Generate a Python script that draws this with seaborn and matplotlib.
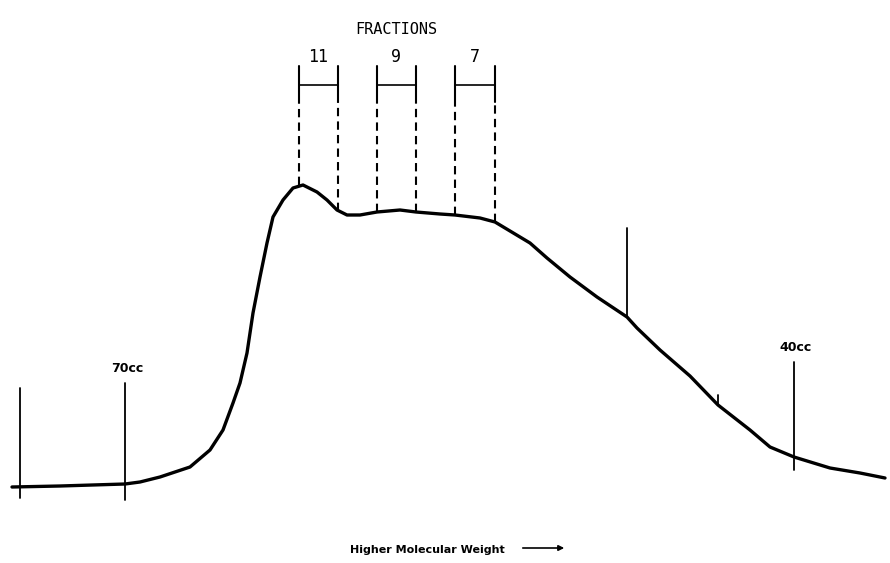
import matplotlib
matplotlib.use("Agg")
import matplotlib.pyplot as plt
import seaborn as sns
import pandas as pd

# trace of the elution profile (x along the chart, height above the base)
curve_x = [12, 60, 125, 140, 160, 190, 210, 223, 233, 240, 247, 253, 260,
           267, 273, 283, 293, 303, 317, 327, 337, 347, 360, 377, 400, 416,
           440, 455, 480, 495, 510, 530, 547, 570, 597, 627, 637, 660, 690,
           718, 750, 770, 794, 830, 860, 885]
curve_h = [76, 77, 79, 81, 86, 96, 113, 133, 160, 180, 210, 250, 286,
           320, 346, 363, 375, 378, 371, 363, 353, 348, 348, 351, 353, 351,
           349, 348, 345, 341, 332, 320, 305, 286, 266, 246, 235, 213, 187,
           158, 133, 116, 106, 95, 90, 85]

# fraction brackets
frac_labels = ["11", "9", "7"]
frac_left = [299, 377, 455]
frac_right = [338, 416, 495]
frac_base = [378, 352, 351, 351, 348, 341]  # curve height under each dashed line

# volume markers
marker_x = [20, 125, 627, 718, 794]
marker_low = [65, 63, 246, 158, 93]
marker_high = [175, 180, 335, 168, 201]
marker_text = ["", "70cc", "", "", "40cc"]

sns.set_theme(style="white")
plt.rcParams['font.family'] = ['Liberation Sans Narrow', 'DejaVu Sans']
plt.rcParams['text.color'] = 'black'

df = pd.DataFrame({"x": curve_x, "h": curve_h})

fig = plt.figure(figsize=(8.9, 5.63), dpi=100)
ax = fig.add_axes([0, 0, 1, 1])
sns.lineplot(data=df, x="x", y="h", color="black", linewidth=2.4, ax=ax,
             solid_joinstyle="round", solid_capstyle="round")

# vertical markers
for xv, lo, hi, txt in zip(marker_x, marker_low, marker_high, marker_text):
    ax.plot([xv, xv], [lo, hi], color="black", lw=1.3)
    if txt:
        ax.text(xv + 2, hi + 8, txt, ha="center", va="bottom", fontsize=9,
                fontweight="bold", color="black")

# fractions
edges = [frac_left[0], frac_right[0], frac_left[1], frac_right[1], frac_left[2], frac_right[2]]
for xv, base in zip(edges, frac_base):
    ax.plot([xv, xv], [461, 497], color="black", lw=1.5)
    ax.plot([xv, xv], [base, 461], color="black", lw=1.5, ls=(0, (4, 2.5)))
for lab, l, r in zip(frac_labels, frac_left, frac_right):
    ax.plot([l, r], [478, 478], color="black", lw=1.2)
    ax.text((l + r) / 2, 497, lab, ha="center", va="bottom", fontsize=12, color="black",
            family=['DejaVu Sans Mono', 'DejaVu Sans'])
ax.text(396, 533, "FRACTIONS", ha="center", va="center", fontsize=11, color="black",
        family=['DejaVu Sans Mono', 'DejaVu Sans'])

ax.text(427, 13, "Higher Molecular Weight", ha="center", va="center", fontsize=8,
        fontweight="bold", color="black")
ax.annotate("", xy=(567, 15), xytext=(520, 15),
            arrowprops=dict(arrowstyle="-|>", color="black", lw=1.2, mutation_scale=8))

ax.set_xlim(0, 890)
ax.set_ylim(0, 563)
ax.axis("off")
fig.savefig("out.png", dpi=100)
